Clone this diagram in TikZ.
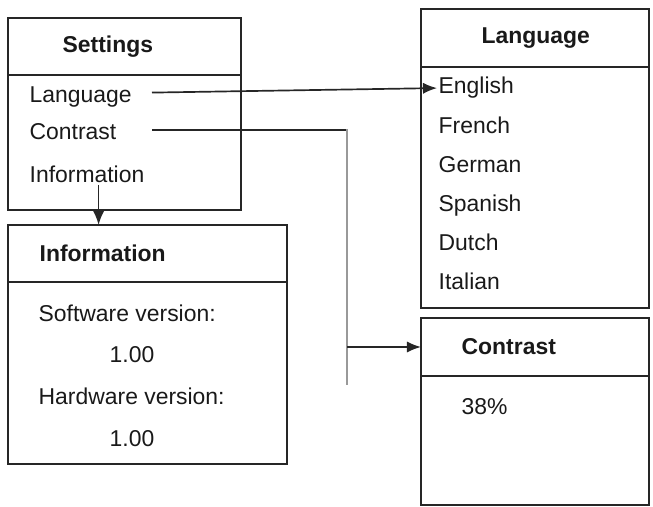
\documentclass[tikz,border=0pt]{standalone}
\usepackage{fontspec}
\setmainfont{Liberation Sans}
\usetikzlibrary{positioning,arrows.meta}

\tikzset{
  panel/.style={draw=black!85, line width=1.5pt, outer sep=0pt, inner sep=0pt, anchor=north west},
  title/.style={font=\fontsize{16.3}{20}\selectfont\bfseries, text=black!90, anchor=base west, inner sep=1pt},
  item/.style={font=\fontsize{16.3}{20}\selectfont, text=black!90, anchor=base west, inner sep=1pt},
  link/.style={draw=black!85, line width=1.2pt},
  tip/.style={-{Latex[length=10pt,width=8pt]}}
}

\begin{document}
\begin{tikzpicture}
		\useasboundingbox (0,0) rectangle (16.325,12.675);

		% Settings
		\node[panel, minimum width=5.825cm, minimum height=1.425cm] (sethead) at (0.2,12.225) {};
		\node[panel, minimum width=5.825cm, minimum height=3.375cm, below=0pt of sethead] (setbody) {};
		\node[title] (settitle) at (1.525,11.35) {Settings};
		\node[item] (setlang) at (0.7,10.1) {Language};
		\node[item] (setcon) at (0.7,9.175) {Contrast};
		\node[item] (setinfo) at (0.7,8.1) {Information};

		% Language
		\node[panel, minimum width=5.7cm, minimum height=1.45cm] (langhead) at (10.525,12.45) {};
		\node[panel, minimum width=5.7cm, minimum height=6.025cm, below=0pt of langhead] (langbody) {};
		\node[title] (langtitle) at (12.0,11.575) {Language};
		\foreach \i/\lang in {0/English,1/French,2/German,3/Spanish,4/Dutch,5/Italian}
			\node[item] (lang\i) at (10.925,{10.325-0.98*\i}) {\lang};

		% Information
		\node[panel, minimum width=6.975cm, minimum height=1.425cm] (infohead) at (0.2,7.05) {};
		\node[panel, minimum width=6.975cm, minimum height=4.55cm, below=0pt of infohead] (infobody) {};
		\node[title] (infotitle) at (0.95,6.125) {Information};
		\node[item] (softlabel) at (0.925,4.625) {Software version:};
		\node[item] (softval) at (2.7,3.6) {1.00};
		\node[item] (hardlabel) at (0.925,2.55) {Hardware version:};
		\node[item] (hardval) at (2.7,1.5) {1.00};

		% Contrast
		\node[panel, minimum width=5.7cm, minimum height=1.45cm] (conhead) at (10.525,4.725) {};
		\node[panel, minimum width=5.7cm, minimum height=3.225cm, below=0pt of conhead] (conbody) {};
		\node[title] (contitle) at (11.5,3.8) {Contrast};
		\node[item] (conval) at (11.5,2.3) {38\%};

		% Verbindungen
		\coordinate (langout) at (3.8,10.36);
		\coordinate (conout) at (3.8,9.425);
		\coordinate (bendtop) at (8.675,9.45);
		\coordinate (bendbot) at (8.675,3.05);
		\draw[link, tip] (langout) -- (lang0.west);
		\draw[link] (conout) -- (conout -| bendtop);
		\draw[draw=black!40, line width=1.4pt] (bendtop) -- (bendbot);
		\draw[link, tip] (conhead.west -| bendtop) -- (conhead.west);
		\draw[link, tip] ([xshift=0.29cm]setinfo.south) -- ([xshift=0.29cm]setinfo.south |- infohead.north);
	\end{tikzpicture}
\end{document}
